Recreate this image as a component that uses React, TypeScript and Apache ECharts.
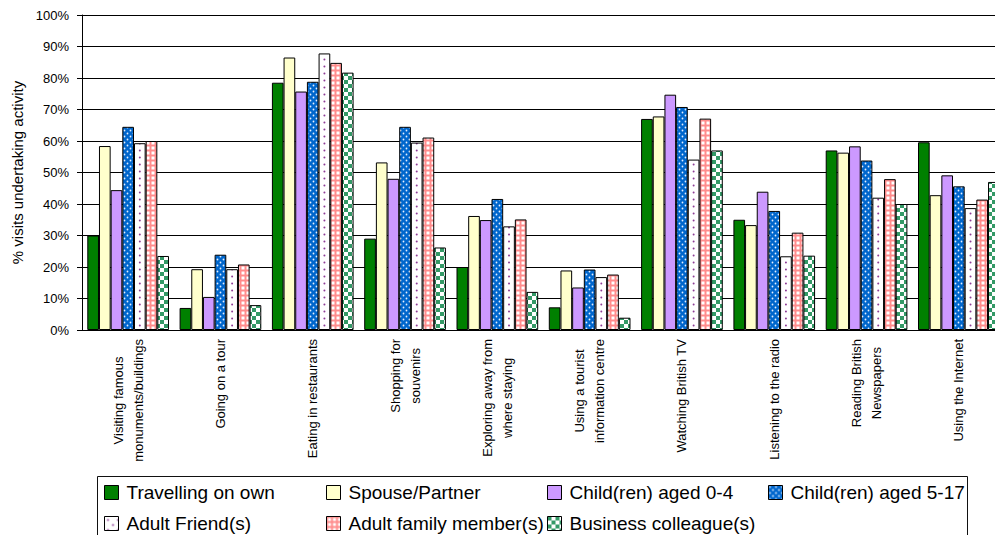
import React, { useEffect, useRef } from "react";
import * as echarts from "echarts";

// Activities (x axis categories)
const CATEGORIES = [
  "Visiting famous\nmonuments/buildings",
  "Going on a tour",
  "Eating in restaurants",
  "Shopping for\nsouvenirs",
  "Exploring away from\nwhere staying",
  "Using a tourist\ninformation centre",
  "Watching British TV",
  "Listening to the radio",
  "Reading British\nNewspapers",
  "Using the Internet",
];

// Share of visits undertaking each activity (%), by travel party
const TRAVELLING_ON_OWN = [30, 7, 78.5, 29, 20, 7.2, 67, 35, 57, 59.6];
const SPOUSE_PARTNER = [58.4, 19.3, 86.5, 53.2, 36.2, 18.9, 67.8, 33.3, 56.3, 42.8];
const CHILD_0_4 = [44.4, 10.5, 75.7, 48, 34.9, 13.5, 74.7, 43.9, 58.3, 49.1];
const CHILD_5_17 = [64.5, 23.9, 78.8, 64.5, 41.6, 19.2, 70.8, 37.8, 53.8, 45.6];
const ADULT_FRIENDS = [59.3, 19.3, 87.8, 59.5, 32.9, 16.8, 54.1, 23.4, 42, 38.7];
const ADULT_FAMILY = [60, 20.8, 84.8, 61.1, 35.1, 17.6, 67.1, 30.9, 47.9, 41.4];
const BUSINESS = [23.5, 7.9, 81.7, 26.2, 12.1, 3.9, 57, 23.6, 40, 47];

const SERIES_NAMES = [
  "Travelling on own",
  "Spouse/Partner",
  "Child(ren) aged 0-4",
  "Child(ren) aged 5-17",
  "Adult Friend(s)",
  "Adult family member(s)",
  "Business colleague(s)",
];

// Y axis ticks
const Y_MIN = 0;
const Y_MAX = 100;
const Y_STEP = 10;

const CHART_W = 1010;
const CHART_H = 560;
const GRID_LEFT = 82;
const GRID_TOP = 15;
const GRID_W = 923;
const GRID_H = 315;
const CAT_GAP = 0.115;

const FONT = "'Liberation Sans', Arial, sans-serif";

type Draw = (ctx: CanvasRenderingContext2D) => void;
function tile(w: number, h: number, draw: Draw) {
  const c = document.createElement("canvas");
  c.width = w;
  c.height = h;
  const ctx = c.getContext("2d") as CanvasRenderingContext2D;
  draw(ctx);
  return { image: c, repeat: "repeat", imageWidth: w, imageHeight: h } as any;
}

function dot(ctx: CanvasRenderingContext2D, x: number, y: number, r: number) {
  ctx.beginPath();
  ctx.arc(x, y, r, 0, Math.PI * 2);
  ctx.fill();
}

export default function App() {
  const ref = useRef<HTMLDivElement>(null);

  useEffect(() => {
    if (!ref.current) return;
    const chart = echarts.init(ref.current, undefined, { renderer: "svg" });

    // Fills
    const blueDots = tile(6, 6, (ctx) => {
      ctx.fillStyle = "#0066CC";
      ctx.fillRect(0, 0, 6, 6);
      ctx.fillStyle = "#E6F0FF";
      dot(ctx, 1.5, 1.5, 0.9);
      dot(ctx, 4.5, 4.5, 0.9);
    });
    const pinkGrid = tile(5, 5, (ctx) => {
      ctx.fillStyle = "#FF8C8C";
      ctx.fillRect(0, 0, 5, 5);
      ctx.fillStyle = "#FFFFFF";
      ctx.fillRect(1.5, 1.5, 3, 3);
    });
    const checker = tile(8, 8, (ctx) => {
      ctx.fillStyle = "#FFFFFF";
      ctx.fillRect(0, 0, 8, 8);
      ctx.fillStyle = "#339966";
      ctx.fillRect(0, 0, 4, 4);
      ctx.fillRect(4, 4, 4, 4);
    });
    // Sparse purple dots: one column running down the middle of each friend bar
    const catW = GRID_W / CATEGORIES.length;
    const barW = (catW * (1 - CAT_GAP)) / SERIES_NAMES.length;
    const friendDots = tile(CHART_W, 7, (ctx) => {
      ctx.fillStyle = "#FFFFFF";
      ctx.fillRect(0, 0, CHART_W, 7);
      ctx.fillStyle = "#8E3C96";
      for (let g = 0; g < CATEGORIES.length; g++) {
        const cx = GRID_LEFT + catW * g + (catW * CAT_GAP) / 2 + barW * 4.5;
        dot(ctx, cx, 3.5, 1);
      }
    });
    const friendIcon = tile(10, 10, (ctx) => {
      ctx.fillStyle = "#FFFFFF";
      ctx.fillRect(0, 0, 10, 10);
      ctx.fillStyle = "#8E3C96";
      dot(ctx, 3.5, 3.5, 1);
      dot(ctx, 8.5, 8.5, 1);
    });

    const fills: any[] = [
      "#008000",
      "#FFFFCC",
      "#CC99FF",
      blueDots,
      friendDots,
      pinkGrid,
      checker,
    ];
    const values = [
      TRAVELLING_ON_OWN,
      SPOUSE_PARTNER,
      CHILD_0_4,
      CHILD_5_17,
      ADULT_FRIENDS,
      ADULT_FAMILY,
      BUSINESS,
    ];

    const series = SERIES_NAMES.map((name, i) => ({
      name,
      type: "bar",
      data: values[i],
      barGap: "0%",
      barCategoryGap: `${CAT_GAP * 100}%`,
      itemStyle: { color: fills[i], borderColor: "#000", borderWidth: 1 },
      emphasis: { disabled: true },
    }));

    // Legend laid out as a 4-column grid inside a framed box
    const colX = [104, 326, 547, 768];
    const rowY = [483, 514];
    const legends = SERIES_NAMES.map((name, i) => ({
      show: true,
      left: colX[i % 4],
      top: rowY[Math.floor(i / 4)],
      padding: 0,
      icon: "rect",
      itemWidth: 14,
      itemHeight: 14,
      selectedMode: false,
      itemStyle: { borderColor: "#000", borderWidth: 1 },
      textStyle: {
        fontFamily: FONT,
        fontSize: 19,
        color: "#000",
        padding: [0, 0, 0, 3],
      },
      data: [
        i === 4
          ? { name, itemStyle: { color: friendIcon, borderColor: "#000", borderWidth: 1 } }
          : { name },
      ],
    }));

    chart.setOption({
      animation: false,
      backgroundColor: "#fff",
      tooltip: { show: false },
      grid: { left: GRID_LEFT, top: GRID_TOP, width: GRID_W, height: GRID_H },
      legend: legends,
      xAxis: {
        type: "category",
        data: CATEGORIES,
        axisLine: { show: true, lineStyle: { color: "#000", width: 1 } },
        axisTick: { show: false },
        axisLabel: {
          interval: 0,
          rotate: 90,
          margin: 9,
          color: "#000",
          fontFamily: FONT,
          fontSize: 13,
          formatter: (v: string) =>
            v
              .split("\n")
              .map((l) => `{c|${l}}`)
              .join("\n"),
          rich: {
            c: {
              align: "center",
              fontFamily: FONT,
              fontSize: 13,
              lineHeight: 20,
              color: "#000",
            },
          },
        },
      },
      yAxis: {
        type: "value",
        min: Y_MIN,
        max: Y_MAX,
        interval: Y_STEP,
        name: "% visits undertaking activity",
        nameLocation: "middle",
        nameRotate: 90,
        nameGap: 56,
        nameTextStyle: { fontFamily: FONT, fontSize: 15, color: "#000" },
        axisLine: { show: true, lineStyle: { color: "#000", width: 1 } },
        axisTick: { show: true, length: 5, lineStyle: { color: "#000" } },
        axisLabel: {
          formatter: "{value}%",
          margin: 13,
          color: "#000",
          fontFamily: FONT,
          fontSize: 13,
        },
        splitLine: { show: true, lineStyle: { color: "#000", width: 1 } },
      },
      graphic: [
        {
          type: "rect",
          shape: { x: 97.5, y: 476.5, width: 870, height: 80 },
          style: { fill: "none", stroke: "#111", lineWidth: 1 },
          silent: true,
        },
      ],
      series,
    });

    return () => chart.dispose();
  }, []);

  return (
    <div
      style={{
        position: "fixed",
        left: 0,
        top: 0,
        width: 995,
        height: 535,
        overflow: "hidden",
        background: "#fff",
      }}
    >
      <div ref={ref} style={{ width: CHART_W, height: CHART_H }} />
    </div>
  );
}
